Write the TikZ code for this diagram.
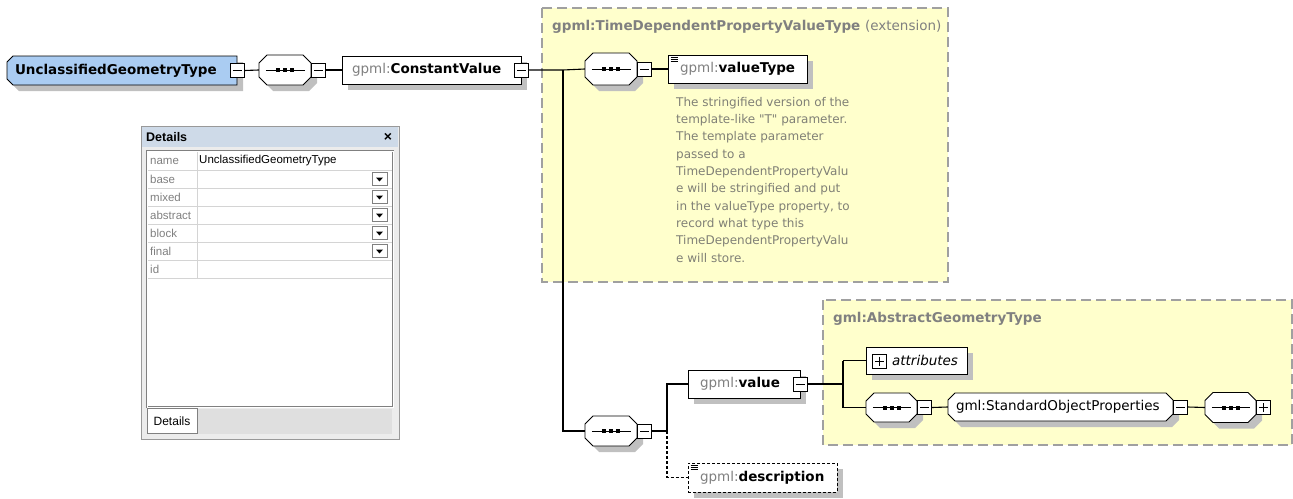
\documentclass[tikz,border=0pt]{standalone}
\usepackage{fontspec}
\setmainfont{DejaVu Sans}
\newfontfamily\panelfont{Liberation Sans}
\usetikzlibrary{positioning, calc, shadows}
\definecolor{inkgray}{RGB}{128,128,128}
\definecolor{annogray}{RGB}{128,128,118}
\definecolor{shadowgray}{RGB}{192,192,192}
\definecolor{rootblue}{RGB}{170,204,242}
\definecolor{groupyellow}{RGB}{255,255,204}
\definecolor{groupdash}{RGB}{160,160,160}
\definecolor{titlebar}{RGB}{206,218,232}
\definecolor{panelgray}{RGB}{236,236,236}
\definecolor{rowline}{RGB}{212,212,212}

\newcommand{\gp}{\textcolor{inkgray}{gpml:}}
% three little lines in the corner of an annotated element
\newcommand{\docicon}[1]{%
  \foreach \dy in {3,5,7}
    \draw[line width=0.6pt] ($(#1.north west)+(3,\dy)$) -- +(7,0);}
% octagon outline: centre x, centre y, width, height, left cut, right cut
\newcommand{\octpath}[6]{%
  ({#1-#3/2+#5},{#2-#4/2}) -- ({#1+#3/2-#6},{#2-#4/2}) -- ({#1+#3/2},{#2-#4/2+#6}) --
  ({#1+#3/2},{#2+#4/2-#6}) -- ({#1+#3/2-#6},{#2+#4/2}) -- ({#1-#3/2+#5},{#2+#4/2}) --
  ({#1-#3/2},{#2+#4/2-#5}) -- ({#1-#3/2},{#2-#4/2+#5}) -- cycle}
\newcommand{\octshape}[7]{%
  \fill[shadowgray, shift={(6pt,-6pt)}] \octpath{#1}{#2}{#3}{#4}{#5}{#6};
  \draw[line width=0.9pt, fill=#7] \octpath{#1}{#2}{#3}{#4}{#5}{#6};}

\tikzset{
  boxshadow/.style={drop shadow={shadow xshift=6pt, shadow yshift=-6pt, fill=shadowgray, opacity=1}},
  elem/.style={draw, line width=0.9pt, fill=white, boxshadow, inner sep=0pt, align=left, minimum height=28pt,
    font=\fontsize{13.5}{16}\selectfont},
  label/.style={inner sep=0pt, align=left, font=\fontsize{13.5}{16}\selectfont},
  seqnode/.style={inner sep=0pt, minimum width=52pt, minimum height=30pt},
  toggle/.style={draw, line width=0.8pt, fill=white, inner sep=0pt, minimum size=14pt},
  minus/.style={toggle, path picture={
    \draw ([xshift=2.5pt]path picture bounding box.west) -- ([xshift=-2.5pt]path picture bounding box.east);}},
  plus/.style={toggle, path picture={
    \draw ([xshift=2.5pt]path picture bounding box.west) -- ([xshift=-2.5pt]path picture bounding box.east);
    \draw ([yshift=-2.5pt]path picture bounding box.north) -- ([yshift=2.5pt]path picture bounding box.south);}},
  group/.style={draw=groupdash, fill=groupyellow, line width=1.2pt, dash pattern=on 10pt off 5pt},
  grouptitle/.style={anchor=west, inner sep=0pt, text=inkgray, font=\fontsize{13.5}{16}\selectfont\bfseries},
  anno/.style={anchor=north west, align=left, inner sep=0pt, text=annogray, font=\fontsize{12}{17.3}\selectfont},
  link/.style={line width=1.1pt},
  plabel/.style={anchor=west, inner sep=0pt, text=gray, font=\panelfont\fontsize{11.5}{13}\selectfont},
  ddbtn/.style={draw=gray, fill=white, inner sep=0pt, minimum width=15pt, minimum height=13pt},
}

\begin{document}
\begin{tikzpicture}[x=1pt, y=-1pt]
  \useasboundingbox (0,0) rectangle (1293,498);

  % group boxes (behind everything)
  \draw[group] (542,8) rectangle (948,282);
  \node[grouptitle] (tdp-title) at (552,27) {gpml:TimeDependentPropertyValueType \mdseries(extension)};
  \draw[group] (823,300) rectangle (1292,445);
  \node[grouptitle] (ag-title) at (833,319) {gml:AbstractGeometryType};

  % top row
  \octshape{122}{70.5}{230}{29}{6}{0}{rootblue}
  \node[label, minimum width=230pt, minimum height=29pt, text width=214pt] (root) at (122,70.5) {\textbf{UnclassifiedGeometryType}};
  \node[minus] (root-t) at (root.east) {};
  \octshape{285}{70}{52}{30}{8}{8}{white}
  \node[seqnode] (s1) at (285,70) {};
  \node[minus, anchor=west] (s1-t) at (s1.east) {};
  \node[elem, minimum width=179pt, text width=159pt] (cv) at (431.5,70) {\gp\textbf{ConstantValue}};
  \node[minus] (cv-t) at (cv.east) {};

  \octshape{611}{69}{52}{32}{8}{8}{white}
  \node[seqnode, minimum height=32pt] (s2) at (611,69) {};
  \node[minus, anchor=west] (s2-t) at (s2.east) {};
  \node[elem, minimum width=139pt, text width=115pt] (vt) at (737.5,69) {\gp\textbf{valueType}};
  \docicon{vt}
  \node[anno] (vt-doc) at (676,97) {The stringified version of the\\
    template-like \textquotedbl T\textquotedbl{} parameter.\\
    The template parameter\\
    passed to a\\
    TimeDependentPropertyValu\\
    e will be stringified and put\\
    in the valueType property, to\\
    record what type this\\
    TimeDependentPropertyValu\\
    e will store.};

  % lower branch
  \octshape{611}{431}{52}{30}{8}{8}{white}
  \node[seqnode] (s5) at (611,431) {};
  \node[minus, anchor=west] (s5-t) at (s5.east) {};
  \node[elem, minimum width=112pt, text width=88pt] (val) at (744,384) {\gp\textbf{value}};
  \node[minus] (val-t) at (val.east) {};
  \node[elem, dash pattern=on 3pt off 2pt, minimum width=149pt, minimum height=29pt, text width=125pt] (desc) at (762.5,477.5) {\gp\textbf{description}};
  \docicon{desc}

  \node[elem, minimum width=101pt, minimum height=27pt, text width=83pt, align=right] (attr) at (916.5,360.5) {\itshape attributes};
  \node[plus] (attr-t) at (879.5,361) {};
  \octshape{891.5}{407.5}{51}{29}{8}{8}{white}
  \node[seqnode, minimum width=51pt, minimum height=29pt] (s3) at (891.5,407.5) {};
  \node[minus, anchor=west] (s3-t) at (s3.east) {};
  \octshape{1060.5}{407}{225}{28}{7}{7}{white}
  \node[label, minimum width=225pt, minimum height=28pt, text width=209pt] (sop) at (1060.5,407) {gml:StandardObjectProperties};
  \node[minus, anchor=west] (sop-t) at (sop.east) {};
  \octshape{1230.5}{407.5}{51}{30}{8}{8}{white}
  \node[seqnode, minimum width=51pt] (s4) at (1230.5,407.5) {};
  \node[plus, anchor=west] (s4-t) at (s4.east) {};

  % sequence marks
  \foreach \n in {s1,s2,s3,s4,s5} {
    \draw[line width=0.9pt] ([xshift=7pt]\n.west) -- ([xshift=-6pt]\n.east);
    \foreach \dx in {-7,0,7}
      \fill ($(\n.center)+(\dx-2,-2)$) rectangle +(4,4);
  }

  % connectors
  \coordinate (j1) at (563,70);
  \coordinate (j2) at (667,431);
  \coordinate (j3) at (843,384);
  \draw[link] (root-t.east) -- (s1.west);
  \draw[link] (s1-t.east) -- (cv.west);
  \draw[link] (cv-t.east) -- (j1) -- (s2.west);
  \draw[link] (s2-t.east) -- (vt.west);
  \draw[link] (j1) |- (s5.west);
  \draw[link] (s5-t.east) -- (j2) |- (val.west);
  \draw[link, dash pattern=on 3pt off 2pt] (j2) |- (desc.west);
  \draw[link] (val-t.east) -- (j3);
  \draw[link] (j3 |- attr.west) -- (j3 |- s3.west);
  \draw[link] (j3 |- attr.west) -- (attr.west);
  \draw[link] (j3 |- s3.west) -- (s3.west);
  \draw[link] (s3-t.east) -- (sop.west);
  \draw[link] (sop-t.east) -- (s4.west);

  % details panel
  \fill[panelgray] (141,126) rectangle (399,439);
  \draw[gray!80] (141,126) rectangle (399,439);
  \fill[titlebar] (142,127) rectangle (398,147);
  \node[anchor=west, inner sep=0pt, font=\panelfont\fontsize{12.5}{14}\selectfont\bfseries] (det-title) at (146,137) {Details};
  \node[inner sep=0pt, font=\panelfont\fontsize{14}{16}\selectfont\bfseries] (det-close) at (388,137) {×};
  \fill[white] (148,152) rectangle (392,407);
  \draw[gray, double=white, double distance=0.8pt] (147,151) rectangle (393,407);
  \foreach \i/\lab in {0/name, 1/base, 2/mixed, 3/abstract, 4/block, 5/final, 6/id} {
    \node[plabel] (row-\lab) at (150,161+18*\i) {\lab};
    \draw[rowline] (148,170+18*\i) -- (392,170+18*\i);
  }
  \draw[rowline] (197,152) -- (197,278);
  \node[plabel, text=black] (row-val) at (199,161) {UnclassifiedGeometryType};
  \foreach \i in {1,...,5} {
    \node[ddbtn] (dd-\i) at (379.5,161+18*\i) {};
    \fill ($(dd-\i.center)+(-3.5,-1.5)$) -- ++(7,0) -- ++(-3.5,4) -- cycle;
  }
  \fill[gray!25] (148,409) rectangle (392,434);
  \draw[gray, fill=white] (147,408) rectangle (197,433);
  \node[inner sep=0pt, font=\panelfont\fontsize{12}{14}\selectfont] (det-tab) at (172,421) {Details};
\end{tikzpicture}
\end{document}
